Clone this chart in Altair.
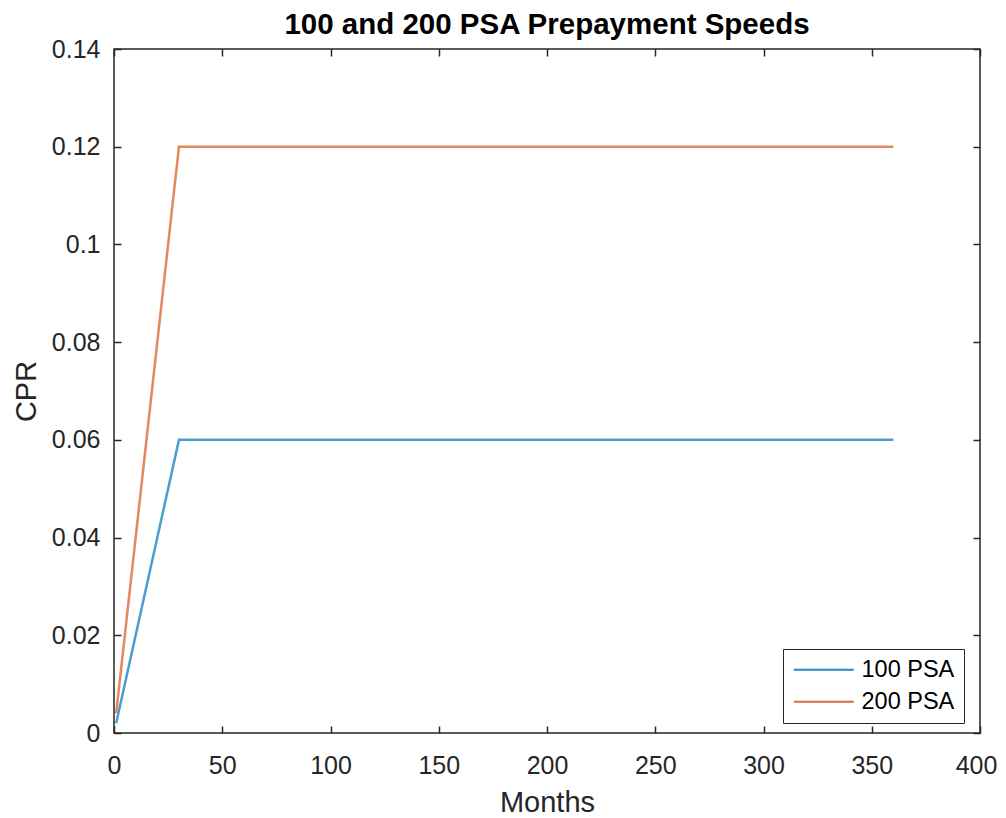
import altair as alt
import pandas as pd

months = [1, 30, 360]
cpr_100 = [0.002, 0.06, 0.06]
cpr_200 = [0.004, 0.12, 0.12]
series = ["100 PSA", "200 PSA"]
colors = ["#0072BD", "#D95319"]
x_ticks = [0, 50, 100, 150, 200, 250, 300, 350, 400]
y_ticks = [0, 0.02, 0.04, 0.06, 0.08, 0.1, 0.12, 0.14]

df = pd.concat([
    pd.DataFrame({"Months": months, "CPR": cpr_100, "Series": series[0]}),
    pd.DataFrame({"Months": months, "CPR": cpr_200, "Series": series[1]}),
])

FONT = "Liberation Sans"
AX = "#262626"

x_scale = alt.Scale(domain=[0, 400], nice=False, zero=False)
y_scale = alt.Scale(domain=[0, 0.14], nice=False, zero=False)
color = alt.Color("Series:N", scale=alt.Scale(domain=series, range=colors),
                  legend=alt.Legend(title=None, orient="none", legendX=669, legendY=600,
                                    fillColor="white", strokeColor=AX, padding=9,
                                    symbolType="M-1,0H5", symbolSize=400, symbolStrokeWidth=2,
                                    symbolOpacity=0.85,
                                    labelOffset=46, labelFontSize=23.5, labelFont=FONT,
                                    labelColor="#000000", rowPadding=7))

common_axis = dict(domain=False, grid=False, tickSize=7, offset=-7, tickColor=AX,
                   tickWidth=1.5, labelFont=FONT, labelFontSize=25, labelColor=AX,
                   labelFlush=False,
                   titleFont=FONT, titleColor=AX, titleFontWeight="normal", titleFontSize=29)

main = alt.Chart(df).mark_line(strokeWidth=2.5, strokeOpacity=0.7).encode(
    x=alt.X("Months:Q", scale=x_scale,
            axis=alt.Axis(orient="bottom", values=x_ticks, labelPadding=20, title="Months",
                          titlePadding=10,
                          labelOffset={"condition": {"test": "datum.value == 400", "value": -4},
                                       "value": 0},
                          **common_axis)),
    y=alt.Y("CPR:Q", scale=y_scale,
            axis=alt.Axis(orient="left", values=y_ticks, labelPadding=14, title="CPR",
                          format="~g", titlePadding=10, **common_axis)),
    color=color,
)

frame = alt.Chart(df).mark_line(opacity=0).encode(
    x=alt.X("Months:Q", scale=x_scale,
            axis=alt.Axis(orient="top", values=x_ticks, labels=False, title=None, **common_axis)),
    y=alt.Y("CPR:Q", scale=y_scale,
            axis=alt.Axis(orient="right", values=y_ticks, labels=False, title=None, **common_axis)),
    detail="Series:N",
)

chart = alt.layer(main, frame).resolve_axis(x="independent", y="independent").properties(
    width=866, height=684,
    background="white",
    title=alt.TitleParams("100 and 200 PSA Prepayment Speeds", font=FONT, fontSize=29.5,
                          fontWeight="bold", color="#000000", anchor="middle", offset=-3),
    autosize=alt.AutoSizeParams(type="none"),
    padding={"left": 106, "top": 41, "right": 18, "bottom": 85},
).configure_view(stroke=AX, strokeWidth=1.5)

chart.save("out.html", embed_options={"renderer": "svg", "actions": False})
